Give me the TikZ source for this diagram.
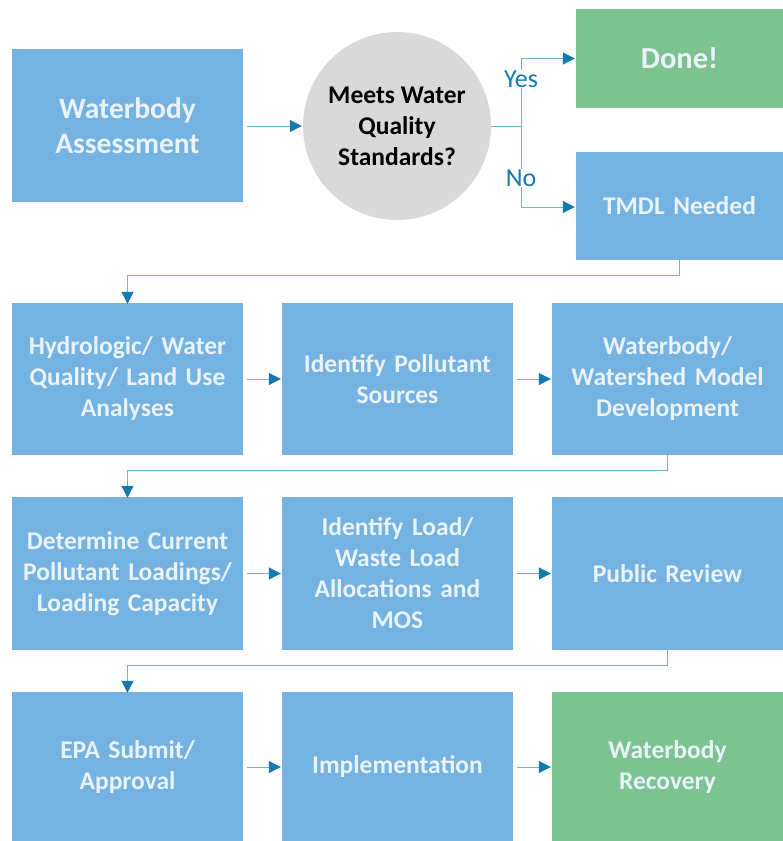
\documentclass[tikz,border=0pt]{standalone}
\usepackage{fontspec}
\setmainfont{Carlito}
\usetikzlibrary{arrows.meta}
\definecolor{boxblue}{HTML}{74B2E2}
\definecolor{boxgreen}{HTML}{7DC392}
\definecolor{discgray}{HTML}{D9D9D9}
\definecolor{linkblue}{HTML}{6FB3D8}
\definecolor{tipblue}{HTML}{1479B0}
\definecolor{lighttext}{HTML}{EAF2FA}
\tikzset{
  stepbox/.style={rectangle, fill=boxblue, draw=none, minimum width=231pt,
    minimum height=152pt, inner sep=0pt, text width=225pt, align=center,
    text=lighttext, font=\fontsize{25.5}{31}\selectfont\bfseries},
  donebox/.style={stepbox, fill=boxgreen},
  link/.style={draw=linkblue, line width=1pt,
    -{Triangle[length=12pt, width=12pt, fill=tipblue, color=tipblue]}},
  branch/.style={text=tipblue, font=\fontsize{26}{28}\selectfont}
}
\begin{document}
\begin{tikzpicture}[x=1pt, y=-1pt]
  \useasboundingbox (0,0) rectangle (783,841);

  % first stage: assessment and decision
  \node[stepbox, minimum height=153pt, font=\fontsize{29.5}{35}\selectfont\bfseries]
    (assess) at (127.5,125.5) {Waterbody\\Assessment};
  \node[circle, fill=discgray, minimum size=188pt, inner sep=0pt, align=center,
    font=\fontsize{25.5}{31}\selectfont\bfseries] (meets) at (397,126)
    {Meets Water\\Quality\\Standards?};
  \node[donebox, minimum width=207pt, minimum height=99pt, text width=200pt,
    font=\fontsize{30.5}{34}\selectfont\bfseries] (done) at (679.5,58.5) {Done!};
  \node[stepbox, minimum width=207pt, minimum height=108pt, text width=200pt]
    (tmdl) at (679.5,206) {TMDL Needed};

  % second stage
  \node[stepbox] (hydro) at (127.5,379) {Hydrologic/ Water\\Quality/ Land Use\\Analyses};
  \node[stepbox] (sources) at (397.5,379) {Identify Pollutant\\Sources};
  \node[stepbox] (model) at (667.5,379) {Waterbody/\\Watershed Model\\Development};

  % third stage
  \node[stepbox, minimum height=153pt] (loadings) at (127.5,573.5)
    {Determine Current\\Pollutant Loadings/\\Loading Capacity};
  \node[stepbox, minimum height=153pt] (alloc) at (397.5,573.5)
    {Identify Load/\\Waste Load\\Allocations and\\MOS};
  \node[stepbox, minimum height=153pt] (review) at (667.5,573.5) {Public Review};

  % fourth stage
  \node[stepbox, minimum height=150pt] (epa) at (127.5,767) {EPA Submit/\\Approval};
  \node[stepbox, minimum height=150pt] (impl) at (397.5,767) {Implementation};
  \node[donebox, minimum height=150pt] (recovery) at (667.5,767) {Waterbody\\Recovery};

  % decision branches
  \coordinate (fork) at (521,126);
  \draw[draw=linkblue, line width=1pt] (meets.east) -- (fork);
  \draw[link] (fork) |- ([xshift=-1pt]done.west);
  \draw[link] (fork) |- ([xshift=-1pt, yshift=-1pt]tmdl.west);
  \node[branch, fill=white, inner sep=1pt] at (521,79) {Yes};
  \node[branch, fill=white, inner sep=1pt] at (521,178) {No};

  % stage-to-stage returns
  \draw[link] (tmdl.south) -- ++(0,15) -| ([yshift=-1pt]hydro.north);
  \draw[link] (model.south) -- ++(0,15) -| ([yshift=-1pt]loadings.north);
  \draw[link] (review.south) -- ++(0,15) -| ([yshift=-1pt]epa.north);

  % arrows within each stage
  \draw[link] ([xshift=4pt]hydro.east) -- ([xshift=-1pt]sources.west);
  \draw[link] ([xshift=4pt]sources.east) -- ([xshift=-1pt]model.west);
  \draw[link] ([xshift=4pt]loadings.east) -- ([xshift=-1pt]alloc.west);
  \draw[link] ([xshift=4pt]alloc.east) -- ([xshift=-1pt]review.west);
  \draw[link] ([xshift=4pt]epa.east) -- ([xshift=-1pt]impl.west);
  \draw[link] ([xshift=4pt]impl.east) -- ([xshift=-1pt]recovery.west);
  \draw[link] ([xshift=4pt]assess.east |- meets.west) -- ([xshift=-1pt]meets.west);
\end{tikzpicture}
\end{document}
